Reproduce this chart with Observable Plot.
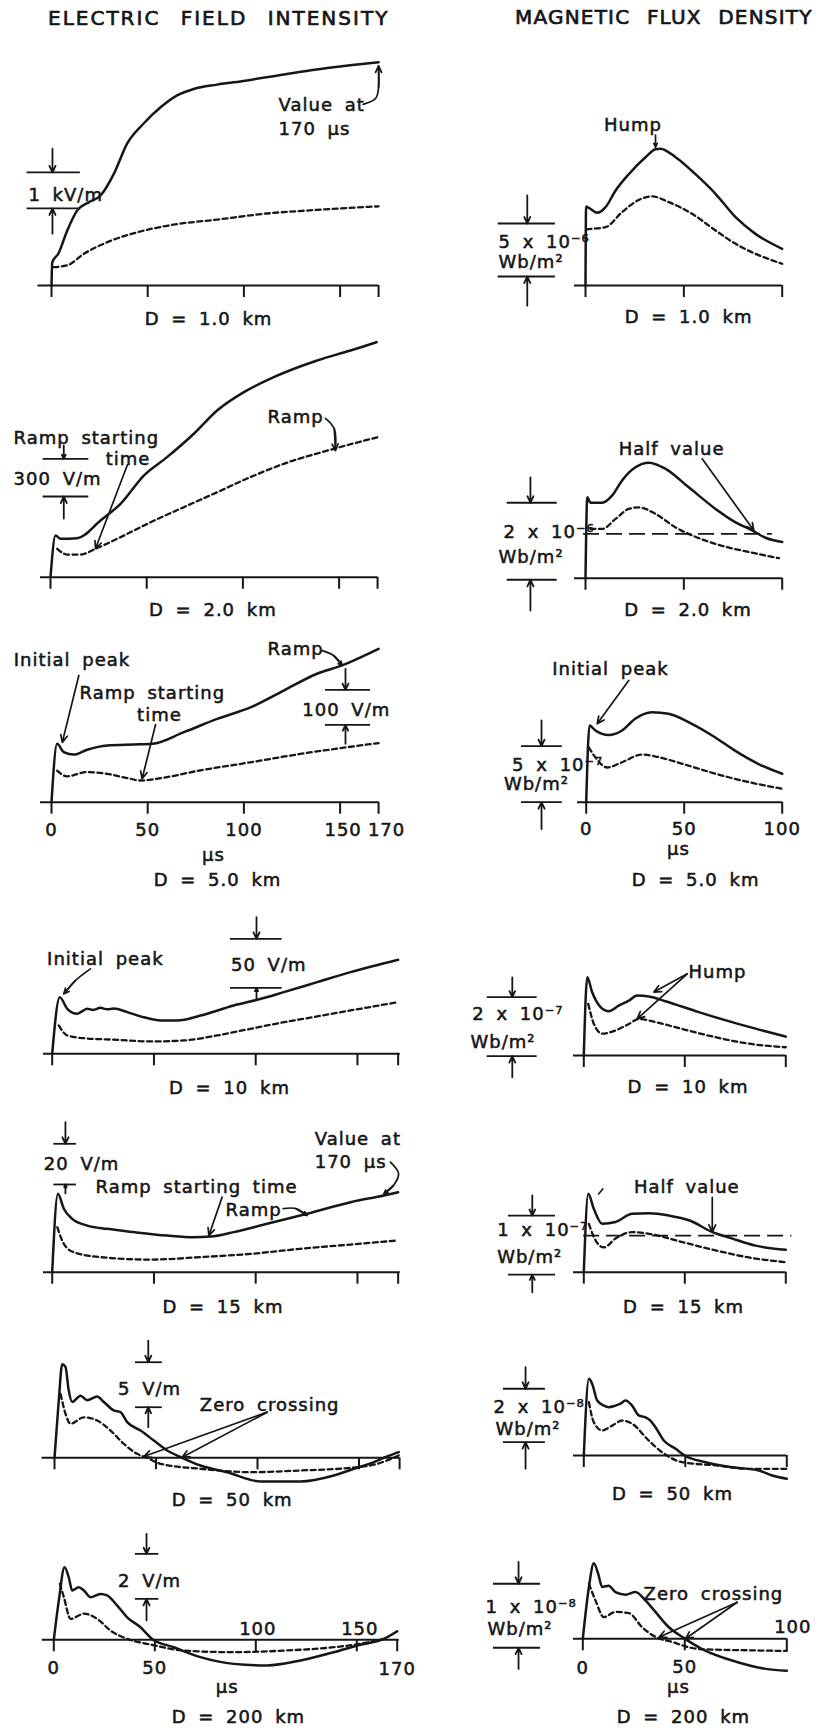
<!DOCTYPE html>
<html><head><meta charset="utf-8">
<script src="https://cdn.jsdelivr.net/npm/d3@7"></script>
<script src="https://cdn.jsdelivr.net/npm/@observablehq/plot@0.6"></script>
<style>
body{margin:0;background:#fff;}
#page{position:relative;width:830px;height:1731px;overflow:hidden;background:#fff;font-family:"DejaVu Sans",sans-serif;}
.title{position:absolute;font-size:20px;line-height:20px;color:#161616;white-space:nowrap;-webkit-text-stroke:0.7px #161616;}
.panel{position:absolute;}
</style></head><body><div id="page"></div>
<script>
// ---- tick values (µs) ----
const eTicks = [0, 50, 100, 150, 170];
const bTicks = [0, 50, 100];

// ---- series: [time µs, value in units of the panel's scale bar] ----
// Electric field, D = 1.0 km (kV/m)
const e1Solid = [[0,0],[0.4,0.64],[3.6,0.89],[8.2,1.53],[13.3,2.08],[19.3,2.31],[25.5,2.5],[32.4,3.1],[39.3,3.94],[47.9,4.5],[56.7,4.95],[65.3,5.28],[73.9,5.46],[86,5.58],[100.8,5.69],[120.7,5.86],[146.6,6.06],[170,6.2]];
const e1Dashed = [[1,0.51],[8.2,0.56],[16.8,0.88],[28.9,1.2],[46.2,1.5],[63.4,1.69],[86,1.83],[112,2.0],[138,2.1],[170,2.2]];
// Magnetic flux, D = 1.0 km (10^-6 Wb/m2)
const b1Solid = [[0,0],[0.3,7.45],[2.5,7.23],[5.9,6.86],[10.2,7.39],[15.3,8.96],[22,10.5],[30.5,12.1],[35.6,12.85],[38.1,12.9],[45.8,12.1],[55.9,10.5],[66.1,8.65],[76.3,6.44],[86.4,4.87],[100,3.46]];
const b1Dashed = [[0.5,5.3],[3.4,5.35],[10.2,5.5],[18.6,6.92],[27.1,8.08],[33.9,8.4],[42.4,7.86],[54.2,6.76],[66.1,5.19],[76.3,3.93],[86.4,2.99],[100,2.05]];
// E, D = 2.0 km (V/m)
const e2Solid = [[0,0],[2.6,332],[5.2,305],[13.9,310],[26,451],[36.4,584],[48.5,809],[60.6,955],[74.5,1141],[86.6,1326],[100.5,1472],[116,1591],[138.6,1724],[155.9,1803],[169.5,1870]];
const e2Dashed = [[3.5,226],[8.7,180],[15.6,180],[23.4,226],[34.6,305],[52,437],[69.3,557],[86.6,676],[103.9,796],[121.2,902],[147.2,1021],[170,1114]];
// B, D = 2.0 km (10^-6 Wb/m2)
const b2Solid = [[0,0],[0.9,2.1],[2.5,1.96],[8.5,1.96],[13.6,2.15],[18.6,2.54],[25.4,2.88],[32.2,3.0],[40.7,2.84],[52.5,2.36],[66.1,1.8],[76.3,1.45],[84.8,1.24],[91.5,1.05],[100,0.94]];
const b2Dashed = [[2.5,1.28],[8.5,1.28],[15.3,1.54],[22,1.8],[27.1,1.84],[35.6,1.67],[45.8,1.32],[54.2,1.11],[66.1,0.89],[83,0.68],[98.3,0.52]];
// E, D = 5.0 km (V/m)
const e3Solid = [[0,0],[2.9,167],[6.4,143],[11.6,136],[18.6,150],[29,162],[42.8,165],[52.4,167],[68.8,200],[86.1,238],[103.4,271],[120.7,319],[138,367],[151,391],[170,438]];
const e3Dashed = [[2.9,90],[8.1,74],[18.5,86],[28.9,81],[39.3,69],[46.2,62],[54.9,67],[77.4,91],[103.4,114],[129.4,138],[153.6,157],[170,169]];
// B, D = 5.0 km (10^-7 Wb/m2)
const b3Solid = [[0,0],[1.7,6.85],[4.7,6.4],[11.5,6.0],[18.3,6.4],[25,7.45],[33.5,8.04],[42,7.9],[53.9,7.0],[65.7,5.8],[75.9,4.6],[87.7,3.43],[100,2.54]];
const b3Dashed = [[1.3,4.9],[4.7,4.0],[10.7,3.1],[18.3,3.57],[28.6,4.26],[35.4,4.08],[49,3.43],[66,2.54],[83,1.79],[100,1.2]];
// E, D = 10 km (V/m)
const e4Solid = [[0,0],[3.7,57.8],[7.4,45.9],[12.3,40.8],[14.8,43.5],[17.2,45.9],[20.2,44.8],[23.7,46.9],[27,45.4],[30.3,46.2],[36.9,42.5],[45,37.3],[53.2,34],[61.4,34],[72.9,39],[89.2,49.3],[100.7,55.1],[113.8,62.9],[130.2,73.1],[146.6,83.3],[170,95.9]];
const e4Dashed = [[3.2,28.9],[7.4,18.7],[15.5,15.9],[31.9,14.3],[48.3,12.6],[64.6,13.6],[81,18.7],[97.4,25.5],[113.8,32.2],[130.2,38.1],[146.6,44.2],[170,52.7]];
// B, D = 10 km (10^-7 Wb/m2)
const b4Solid = [[0,0],[1.7,2.65],[4.1,2.15],[8.3,1.64],[12.4,1.5],[17.3,1.69],[22.3,1.86],[26.4,2.03],[32.2,2.0],[40.4,1.84],[56.9,1.47],[73.4,1.13],[89.9,0.82],[100,0.64]];
const b4Dashed = [[2.2,1.75],[5,1.07],[9.1,0.74],[15.7,0.85],[22.3,1.07],[27.2,1.24],[35.5,1.13],[48.7,0.9],[65.2,0.62],[81.7,0.4],[100,0.28]];
// E, D = 15 km (V/m)
const e5Solid = [[0,0],[2.8,38.5],[5.7,31.2],[9.8,26.2],[17.2,22.9],[27,21.3],[40.1,19.7],[56.5,18],[69.6,17.2],[77.8,17.5],[89.2,19.7],[105.6,23.8],[125.3,28.7],[146.6,34.4],[163,37.7],[170,39.3]];
const e5Dashed = [[2.5,22.1],[5.7,14],[10.6,9.8],[23.7,7.4],[48.3,6.2],[72.9,7.4],[97.4,9.0],[122,11.5],[146.6,13.6],[170,15.6]];
// B, D = 15 km (10^-7 Wb/m2)
const b5Solid = [[0,0],[2.2,1.33],[5,1.07],[9.1,0.82],[15.7,0.85],[24,0.99],[32.3,1.0],[42.2,0.96],[52.1,0.88],[63.7,0.68],[73.6,0.57],[85,0.45],[100,0.38]];
const b5Dashed = [[2.5,0.82],[5.8,0.54],[9.9,0.42],[15.7,0.57],[24,0.68],[32.3,0.65],[48.8,0.51],[65.3,0.37],[81.7,0.25],[100,0.17]];
// E, D = 50 km (V/m)
const e6Solid = [[0,0],[2.1,6.37],[3.8,10.4],[5.4,10.1],[7,7.5],[8.7,6.2],[12.8,6.9],[16.1,6.4],[21,6.8],[24.3,6.2],[29.2,5.26],[32.5,5.07],[35.8,3.96],[42.4,3.03],[48.9,1.92],[55.5,0.81],[62.9,0],[71.9,-0.86],[85,-1.6],[101.5,-2.63],[121.2,-2.63],[137.6,-1.96],[147.5,-1.22],[157.3,-0.48],[163.9,0.15],[169.6,0.63]];
const e6Dashed = [[3,7.1],[5.4,4.9],[7.9,3.78],[14.4,4.5],[21,4.14],[27.6,3.03],[34.1,1.56],[40.7,0.44],[45.6,0],[52.2,-0.67],[71.9,-1.22],[96.6,-1.6],[121.2,-1.41],[145.8,-1.11],[159,-0.67],[169.6,0.26]];
// B, D = 50 km (10^-8 Wb/m2)
const b6Solid = [[0,0],[2.5,2.87],[4.1,2.69],[6.6,2.06],[9.9,1.87],[12.3,1.81],[15.6,1.87],[18.1,1.94],[20.5,2.06],[23.8,1.87],[27.1,1.5],[30.4,1.43],[32.8,1.31],[35.3,1.06],[39.4,0.56],[45.2,0.25],[50.1,-0.02],[60,-0.25],[73.1,-0.44],[86.2,-0.56],[92.8,-0.75],[100,-0.87]];
const b6Dashed = [[2.5,2.0],[4.9,1.25],[9,0.94],[14,1.12],[18.9,1.31],[23.8,1.19],[32,0.56],[38.6,0.12],[48.5,-0.25],[64.9,-0.37],[81.3,-0.5],[100,-0.5]];
// E, D = 200 km (V/m)
const e7Solid = [[0,0],[2.5,1.75],[5.3,3.23],[7.4,2.78],[9.1,2.19],[12.4,2.34],[14.9,2.19],[18.2,1.89],[23.1,2.04],[26.4,1.97],[31.4,1.52],[36.3,1.0],[42.9,0.56],[48.7,0.04],[59.4,-0.33],[72.6,-0.77],[89.1,-1.07],[105.6,-1.14],[122.1,-0.92],[138.6,-0.55],[150.2,-0.25],[163.4,0.04],[170,0.38]];
const e7Dashed = [[3,2.49],[5,1.89],[8.3,0.93],[14.9,1.16],[21.5,0.93],[28.1,0.41],[36.3,0.04],[47.9,-0.21],[64.4,-0.48],[89.1,-0.55],[113.9,-0.48],[138.6,-0.33],[149.4,-0.21],[163.4,0.04]];
// B, D = 200 km (10^-8 Wb/m2)
const b7Solid = [[0,0],[3,0.81],[5.4,1.18],[7.5,1.02],[9.5,0.81],[12.7,0.83],[16,0.73],[20.9,0.69],[25.8,0.73],[30.7,0.6],[35.6,0.42],[42.2,0.18],[48.7,0.03],[58.5,-0.16],[73.2,-0.34],[89.6,-0.47],[100,-0.5]];
const b7Dashed = [[3,0.86],[6.2,0.6],[10.3,0.34],[16,0.42],[22.6,0.4],[29.1,0.18],[35.6,0.03],[43.8,-0.05],[56.9,-0.16],[81.4,-0.18],[100,-0.19]];

// ---- layout ----
const ink = "#161616";
const FONT = "DejaVu Sans";
const rows = [[30,300],[330,292],[622,273],[895,205],[1100,218],[1318,194],[1512,219]];

const panels = [
 {row:0,col:0,x0:51,kx:1.924,yb:285,ky:36,ticks:eTicks,axis:[-7,170],solid:e1Solid,dashed:e1Dashed,
  bar:{t:0.5,x1:-12.7,x2:15,lo:2.14,hi:3.14,top:3.8,bot:1.44},
  texts:[[-12,2.56,"1 kV/m","start"],[118,4.72,"Value at\n170 µs","start"],[81.6,-0.89,"D = 1.0 km","middle"]],
  leaders:[{pts:[[162,5.03],[168.5,5.2],[170,5.5],[170,6.1]]}]},
 {row:0,col:1,x0:585,kx:1.967,yb:285,ky:10.6,ticks:bTicks,axis:[-5.6,100],solid:b1Solid,dashed:b1Dashed,
  bar:{t:-29.6,x1:-44.4,x2:-15.3,lo:0.85,hi:5.85,top:8.5,bot:-1.9},
  texts:[[-44.2,4.25,"5 x 10⁻⁶","start"],[-44.2,2.36,"Wb/m²","start"],[24.1,15.3,"Hump","middle"],[52.4,-2.83,"D = 1.0 km","middle"]],
  leaders:[{pts:[[35.6,14.2],[35.6,13.05]]}]},
 {row:1,col:0,x0:50,kx:1.924,yb:576.7,ky:0.1257,ticks:eTicks,axis:[-5.2,170],solid:e2Solid,dashed:e2Dashed,
  bar:{t:6.9,x1:-3.8,x2:19.9,lo:642,hi:942,top:1048,bot:467},
  texts:[[-19.2,796,"300 V/m","start"],[-19.2,1122,"Ramp starting","start"],[40.3,955,"time","middle"],[112.8,1286,"Ramp","start"],[84.4,-251,"D = 2.0 km","middle"]],
  leaders:[{pts:[[40,895],[23.4,228]]},{pts:[[142.9,1263],[147.5,1180],[148.1,1008]]}]},
 {row:1,col:1,x0:585,kx:1.967,yb:577.7,ky:38.5,ticks:bTicks,axis:[-5.6,100],solid:b2Solid,dashed:b2Dashed,
  half:{v:1.15,x1:-1,x2:95},
  bar:{t:-28,x1:-39.8,x2:-14.4,lo:-0.04,hi:1.96,top:2.62,bot:-0.84},
  texts:[[-41.7,1.24,"2 x 10⁻⁶","start"],[-44.2,0.59,"Wb/m²","start"],[16.9,3.4,"Half value","start"],[52.1,-0.79,"D = 2.0 km","middle"]],
  leaders:[{pts:[[59.3,3.1],[85.6,1.24]]}]},
 {row:2,col:0,x0:51,kx:1.924,yb:801.7,ky:0.35,ticks:eTicks,axis:[-5.7,170],solid:e3Solid,dashed:e3Dashed,
  tickLabels:[[0,-74.3,0],[50,-74.3,0],[100,-74.3,0],[150,-74.3,3],[170,-74.3,8]],
  bar:{t:152.8,x1:142.4,x2:165.8,lo:221,hi:321,top:381,bot:167},
  texts:[[153.2,267,"100 V/m","middle"],[112.3,443,"Ramp","start"],[-19.6,410,"Initial peak","start"],[14.6,316,"Ramp starting","start"],[44.5,253,"time","start"],[84.2,-146.6,"µs","middle"],[86.3,-219,"D = 5.0 km","middle"]],
  leaders:[{pts:[[140.7,433],[146.6,419],[151.1,391]]},{pts:[[14.2,362],[5.6,171]]},{pts:[[54.1,222],[47.1,67]]}]},
 {row:2,col:1,x0:585.7,kx:1.96,yb:801.7,ky:11.2,ticks:bTicks,axis:[-4.4,100],solid:b3Solid,dashed:b3Dashed,
  tickLabels:[[0,-2.23,0],[50,-2.23,0],[100,-2.23,0]],
  bar:{t:-22.8,x1:-33,x2:-12.2,lo:0,hi:5,top:7.3,bot:-2.4},
  texts:[[-37.8,3.43,"5 x 10⁻⁷","start"],[-42,1.79,"Wb/m²","start"],[-17.3,12.05,"Initial peak","start"],[47.1,-4.0,"µs","middle"],[55.8,-6.84,"D = 5.0 km","middle"]],
  leaders:[{pts:[[21.7,10.87],[5.6,7.0]]}]},
 {row:3,col:0,x0:51.7,kx:2.035,yb:1053.3,ky:0.98,ticks:eTicks,axis:[-4.3,171],solid:e4Solid,dashed:e4Dashed,
  bar:{t:100.4,x1:87.6,x2:113,lo:67.3,hi:117.3,top:139.4,bot:56.1},
  texts:[[106.4,91.8,"50 V/m","middle"],[-2.5,98,"Initial peak","start"],[87.1,-33.4,"D = 10 km","middle"]],
  leaders:[{pts:[[18.8,86.7],[11.4,74.8],[5.7,61.2]]}]},
 {row:3,col:1,x0:583.3,kx:2.02,yb:1055,ky:29.5,ticks:bTicks,axis:[-5.1,100],solid:b4Solid,dashed:b4Dashed,
  bar:{t:-35.4,x1:-47.8,x2:-23.1,lo:-0.02,hi:1.98,top:2.65,bot:-0.74},
  texts:[[-55.2,1.47,"2 x 10⁻⁷","start"],[-56.1,0.51,"Wb/m²","start"],[51.8,2.88,"Hump","start"],[51.6,-1.02,"D = 10 km","middle"]],
  leaders:[{pts:[[51.2,2.77],[34.7,2.15]]},{pts:[[51.2,2.77],[26.4,1.24]]}]},
 {row:4,col:0,x0:51.7,kx:2.035,yb:1271.7,ky:2.035,ticks:eTicks,axis:[-4.3,171],solid:e5Solid,dashed:e5Dashed,
  bar:{t:6.5,x1:0.8,x2:11.9,lo:43.1,hi:63.1,top:73.7,bot:38.7},
  texts:[[-4.1,54,"20 V/m","start"],[129,60.6,"Value at\n170 µs","start"],[21.3,42.6,"Ramp starting time","start"],[85.2,31.2,"Ramp","start"],[83.9,-16.4,"D = 15 km","middle"]],
  leaders:[{pts:[[166.2,54.1],[170.2,48.5],[167.7,42.6],[163,38.5]]},{pts:[[83.5,36.9],[77,18]]},{pts:[[113.5,31.2],[119.6,31.3],[125.3,27.9]]}]},
 {row:4,col:1,x0:583.3,kx:2.02,yb:1271.7,ky:59,ticks:bTicks,axis:[-5.1,100],solid:b5Solid,dashed:b5Dashed,
  half:{v:0.62,x1:-0.1,x2:103},
  bar:{t:-25.5,x1:-37.3,x2:-14,lo:-0.04,hi:0.96,top:1.3,bot:-0.34},
  texts:[[-42.9,0.74,"1 x 10⁻⁷","start"],[-42.9,0.28,"Wb/m²","start"],[24.8,1.47,"Half value","start"],[49.4,-0.56,"D = 15 km","middle"]],
  leaders:[{pts:[[63.6,1.27],[63.6,0.68]]},{pts:[[7.4,1.33],[9.4,1.41]],arrow:false}]},
 {row:5,col:0,x0:54,kx:2.03,yb:1457.3,ky:9,ticks:eTicks,axis:[-6.1,170],solid:e6Solid,dashed:e6Dashed,
  bar:{t:46.2,x1:39.9,x2:53.1,lo:5.62,hi:10.62,top:13.03,bot:3.4},
  texts:[[46.8,7.78,"5 V/m","middle"],[71.6,6.0,"Zero crossing","start"],[87.5,-4.56,"D = 50 km","middle"]],
  leaders:[{pts:[[104.8,5.07],[44,0.14]]},{pts:[[104.8,5.07],[62.9,0.07]]}]},
 {row:5,col:1,x0:583.3,kx:2.03,yb:1455,ky:26.7,ticks:bTicks,axis:[-5.1,100],solid:b6Solid,dashed:b6Dashed,
  bar:{t:-28.7,x1:-39.6,x2:-18.9,lo:0.5,hi:2.5,top:3.31,bot:-0.5},
  texts:[[-44.5,1.87,"2 x 10⁻⁸","start"],[-43.5,1.06,"Wb/m²","start"],[43.7,-1.37,"D = 50 km","middle"]]},
 {row:6,col:0,x0:53.3,kx:2.02,yb:1639.3,ky:22.5,ticks:eTicks,axis:[-5.7,171],solid:e7Solid,dashed:e7Dashed,
  tickLabels:[[0,-1.2,0],[50,-1.2,0],[100,0.56,2],[150,0.56,3],[170,-1.25,0]],
  bar:{t:45.9,x1:40.4,x2:52,lo:1.82,hi:3.82,top:4.71,bot:0.86},
  texts:[[47.4,2.67,"2 V/m","middle"],[85.8,-2.03,"µs","middle"],[91.4,-3.36,"D = 200 km","middle"]]},
 {row:6,col:1,x0:582.3,kx:2.04,yb:1638.3,ky:64,ticks:bTicks,axis:[-4.6,100],solid:b7Solid,dashed:b7Dashed,
  tickLabels:[[0,-0.44,0],[50,-0.42,0],[100,0.21,6]],
  bar:{t:-31.5,x1:-43.8,x2:-20.7,lo:-0.14,hi:0.86,top:1.2,bot:-0.47},
  texts:[[-47.7,0.52,"1 x 10⁻⁸","start"],[-46.7,0.18,"Wb/m²","start"],[29.8,0.73,"Zero crossing","start"],[46.9,-0.73,"µs","middle"],[49.3,-1.2,"D = 200 km","middle"]],
  leaders:[{pts:[[75.7,0.57],[37.3,0.025]]},{pts:[[75.7,0.57],[50.3,0.0]]}]}
];

const page = document.getElementById("page");
function addTitle(text, left, top, ls, ws){
  const d = document.createElement("div");
  d.className = "title"; d.textContent = text;
  d.style.left = left + "px"; d.style.top = top + "px";
  d.style.letterSpacing = ls + "px"; d.style.wordSpacing = ws + "px";
  page.appendChild(d);
}
addTitle("ELECTRIC FIELD INTENSITY", 48, 8, 2, 12);
addTitle("MAGNETIC FLUX DENSITY", 515, 7, 1.2, 9);

const asObj = a => a.map(([t, v]) => ({t, v}));

function build(p){
  const [top, height] = rows[p.row];
  const left = p.col ? 415 : 0, width = 415;
  const tl = 12 / p.ky;
  const textOpts = {x:"t", y:"v", text:"s", fontSize:18, fontFamily:FONT, fill:ink, stroke:ink, strokeWidth:0.55, lineHeight:1.3};
  const marks = [
    Plot.ruleY([0], {x1:p.axis[0], x2:p.axis[1], stroke:ink, strokeWidth:2}),
    Plot.ruleX(p.ticks, {x:d=>d, y1:0, y2:-tl, stroke:ink, strokeWidth:2}),
    Plot.line(asObj(p.solid), {x:"t", y:"v", curve:"monotone-x", stroke:ink, strokeWidth:2.5}),
    Plot.line(asObj(p.dashed), {x:"t", y:"v", curve:"monotone-x", stroke:ink, strokeWidth:2.3, strokeDasharray:"5,3.5"})
  ];
  if (p.half) marks.push(Plot.ruleY([p.half.v], {x1:p.half.x1, x2:p.half.x2, stroke:ink, strokeWidth:1.8, strokeDasharray:"16,7"}));
  const s = p.bar;
  marks.push(Plot.ruleY([s.lo, s.hi], {x1:s.x1, x2:s.x2, stroke:ink, strokeWidth:1.8}));
  marks.push(Plot.arrow([{a:s.top, b:s.hi}, {a:s.bot, b:s.lo}], {x1:s.t, x2:s.t, y1:"a", y2:"b", stroke:ink, strokeWidth:1.8, headLength:6, headAngle:50}));
  for (const L of (p.leaders || [])) {
    const P = asObj(L.pts);
    if (P.length > 2 || L.arrow === false) marks.push(Plot.line(P, {x:"t", y:"v", curve:"catmull-rom", stroke:ink, strokeWidth:1.7}));
    if (L.arrow !== false) {
      const a = P[P.length-2], b = P[P.length-1];
      marks.push(Plot.arrow([{a, b}], {x1:d=>d.a.t, y1:d=>d.a.v, x2:d=>d.b.t, y2:d=>d.b.v, stroke:ink, strokeWidth:1.7, headLength:7, headAngle:50}));
    }
  }
  for (const [t, v, dx] of (p.tickLabels || [])) {
    marks.push(Plot.text([{t, v, s:String(t)}], {...textOpts, textAnchor:"middle", dx}));
  }
  const T = p.texts.map(([t, v, s, a]) => ({t, v, s, a}));
  for (const anchor of ["start", "middle"]) {
    const sub = T.filter(d => d.a === anchor);
    if (sub.length) marks.push(Plot.text(sub, {...textOpts, textAnchor:anchor}));
  }
  const svg = Plot.plot({
    width, height,
    marginTop:0, marginRight:0, marginBottom:0, marginLeft:0,
    x:{domain:[(left - p.x0)/p.kx, (left + width - p.x0)/p.kx], range:[0, width], axis:null},
    y:{domain:[(p.yb - (top + height))/p.ky, (p.yb - top)/p.ky], range:[height, 0], axis:null},
    style:{background:"transparent", overflow:"visible", letterSpacing:"1px", wordSpacing:"5px", fontFamily:FONT},
    marks
  });
  const wrap = document.createElement("div");
  wrap.className = "panel";
  wrap.style.left = left + "px"; wrap.style.top = top + "px";
  wrap.appendChild(svg);
  page.appendChild(wrap);
}
panels.forEach(build);
</script></body></html>
